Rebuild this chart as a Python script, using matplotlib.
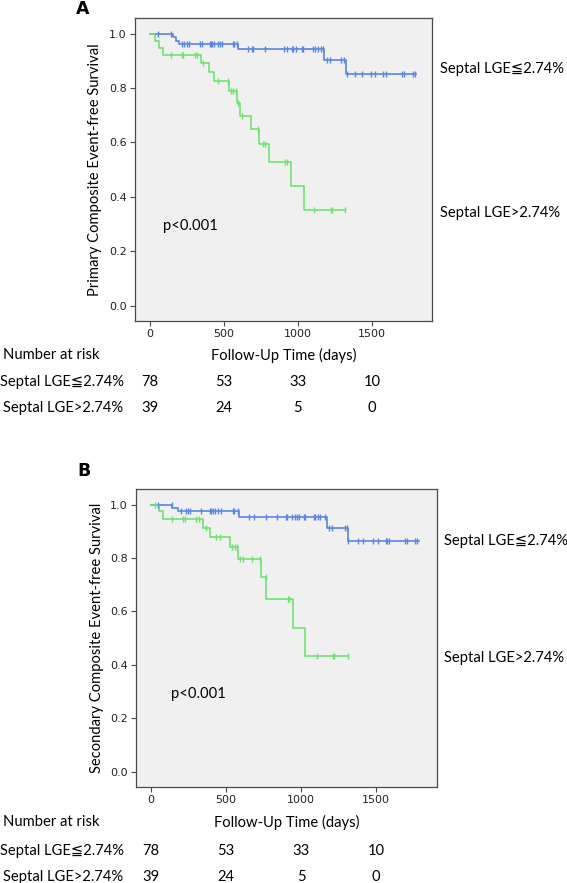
import numpy as np
import matplotlib
matplotlib.use("Agg")
import matplotlib.pyplot as plt
from matplotlib.transforms import blended_transform_factory

# ---------------- data ----------------
tick_days = [0, 500, 1000, 1500]
y_ticks = [0.0, 0.2, 0.4, 0.6, 0.8, 1.0]
group_low = "Septal LGE\u22662.74%"
group_high = "Septal LGE>2.74%"

# Panel A (primary composite)
blue_A_times = [158, 176, 198, 597, 1178, 1322]
blue_A_surv = [0.987, 0.975, 0.962, 0.944, 0.904, 0.852]
blue_A_end = 1800
blue_A_censor = [56, 146, 214, 232, 248, 266, 338, 349, 405, 412, 423, 432, 462, 473, 484,
                 559, 570, 586, 664, 687, 698, 777, 905, 923, 957, 968, 986, 1025, 1032,
                 1099, 1115, 1137, 1153, 1171, 1194, 1216, 1291, 1311, 1329, 1385, 1430,
                 1491, 1520, 1577, 1595, 1700, 1716, 1775, 1791]

green_A_times = [34, 63, 86, 348, 397, 435, 536, 586, 608, 680, 739, 806, 953, 1041]
green_A_surv = [0.974, 0.949, 0.923, 0.892, 0.861, 0.827, 0.791, 0.747, 0.698, 0.649,
                0.595, 0.527, 0.439, 0.352]
green_A_end = 1318
green_A_censor = [140, 214, 222, 304, 320, 358, 463, 529, 547, 563, 581, 597, 619, 732,
                  766, 777, 912, 923, 1110, 1223, 1232, 1318]

# Panel B (secondary composite)
blue_B_times = [141, 182, 588, 1172, 1311]
blue_B_surv = [0.987, 0.974, 0.953, 0.911, 0.864]
blue_B_end = 1782
blue_B_censor = [48, 137, 203, 236, 247, 258, 335, 390, 401, 412, 423, 445, 467, 544, 555,
                 577, 654, 687, 765, 842, 897, 908, 941, 958, 974, 985, 1018, 1029, 1084,
                 1095, 1112, 1128, 1161, 1183, 1205, 1289, 1304, 1315, 1377, 1414, 1480,
                 1509, 1562, 1575, 1586, 1690, 1707, 1756, 1773]

green_B_times = [55, 81, 346, 392, 527, 577, 732, 765, 945, 1029]
green_B_surv = [0.974, 0.947, 0.911, 0.879, 0.841, 0.796, 0.730, 0.647, 0.539, 0.432]
green_B_end = 1315
green_B_censor = [26, 137, 214, 225, 302, 319, 365, 436, 458, 542, 558, 570, 592, 614, 676,
                  725, 764, 910, 921, 1106, 1209, 1220, 1311]

risk_low_A = [78, 53, 33, 10]
risk_high_A = [39, 24, 5, 0]
risk_low_B = [78, 53, 33, 10]
risk_high_B = [39, 24, 5, 0]

# ---------------- style ----------------
W, H = 567, 883
BLUE = "#5a85e6"
GREEN = "#6ee36e"
FACE = "#eff0ef"
SPINE = "#4a4a4a"
TXT = ["Lato", "DejaVu Sans", "Noto Sans CJK JP"]
TFS = 10.6

fig = plt.figure(figsize=(W / 100, H / 100), dpi=100)


def fx(x):
    return x / W


def fy(y):
    return 1 - y / H


def km(ax, times, surv, end, censor, color):
    t = [0] + list(times) + [end]
    s = [1.0] + list(surv) + [surv[-1]]
    ax.step(t, s, where="post", color=color, lw=1.2, zorder=3)
    levels = np.array([1.0] + list(surv))
    idx = np.searchsorted(np.array(times), np.array(censor), side="right")
    ax.plot(censor, levels[idx], linestyle="none", marker="|", ms=5, mew=1.0,
            color=color, zorder=4)


def panel(box, letter, ylabel, ylab_x, blue, green, risk_low, risk_high,
          right_low_y, right_high_y, right_x, p_xy, rows_y, letter_xy):
    l, t, r, b = box
    ax = fig.add_axes([fx(l), fy(b), (r - l) / W, (b - t) / H])
    ax.set_facecolor(FACE)
    km(ax, *blue, BLUE)
    km(ax, *green, GREEN)
    ax.set_xlim(-100, 1905)
    ax.set_ylim(-0.057, 1.058)
    ax.set_xticks(tick_days)
    ax.set_yticks(y_ticks)
    ax.set_xticklabels([str(v) for v in tick_days])
    ax.set_yticklabels([f"{v:.1f}" for v in y_ticks])
    ax.tick_params(direction="out", length=3.5, width=0.8, color=SPINE,
                   labelsize=8, pad=2.5, labelcolor="#222222")
    for sp in ax.spines.values():
        sp.set_color(SPINE)
        sp.set_linewidth(0.9)

    fig.text(fx(ylab_x), fy((t + b) / 2), ylabel, rotation=90, ha="center",
             va="center", fontsize=TFS, family=TXT)
    fig.text(fx(letter_xy[0]), fy(letter_xy[1]), letter, ha="center", va="center",
             fontsize=12.5, fontweight="bold", family=["DejaVu Sans"])
    fig.text(fx(right_x), fy(right_low_y), group_low, ha="left", va="center",
             fontsize=TFS, family=TXT)
    fig.text(fx(right_x), fy(right_high_y), group_high, ha="left", va="center",
             fontsize=TFS, family=TXT)
    ax.text(p_xy[0], p_xy[1], "p<0.001", ha="left", va="center", fontsize=TFS,
            family=TXT, transform=ax.transData)

    nar_y, row1_y, row2_y = rows_y
    fig.text(fx(3), fy(nar_y), "Number at risk", ha="left", va="center",
             fontsize=TFS, family=TXT)
    fig.text(fx((l + r) / 2), fy(nar_y), "Follow-Up Time (days)", ha="center",
             va="center", fontsize=TFS, family=TXT)
    fig.text(fx(0.5), fy(row1_y), group_low, ha="left", va="center", fontsize=TFS,
             family=TXT)
    fig.text(fx(3), fy(row2_y), group_high, ha="left", va="center", fontsize=TFS,
             family=TXT)
    tr = blended_transform_factory(ax.transData, fig.transFigure)
    for d, a, bb in zip(tick_days, risk_low, risk_high):
        ax.text(d, fy(row1_y), str(a), ha="center", va="center", fontsize=TFS,
                family=TXT, transform=tr, clip_on=False)
        ax.text(d, fy(row2_y), str(bb), ha="center", va="center", fontsize=TFS,
                family=TXT, transform=tr, clip_on=False)
    return ax


panel((135, 18, 432, 321), "A", "Primary Composite Event-free Survival", 95,
      (blue_A_times, blue_A_surv, blue_A_end, blue_A_censor),
      (green_A_times, green_A_surv, green_A_end, green_A_censor),
      risk_low_A, risk_high_A, 69, 213, 440, (90, 0.292), (355, 382, 408), (83, 9))

panel((136, 489, 437, 787), "B", "Secondary Composite Event-free Survival", 97,
      (blue_B_times, blue_B_surv, blue_B_end, blue_B_censor),
      (green_B_times, green_B_surv, green_B_end, green_B_censor),
      risk_low_B, risk_high_B, 541, 658, 444, (130, 0.29), (822, 851, 877), (84, 471))

fig.savefig("out.png", dpi=100)
